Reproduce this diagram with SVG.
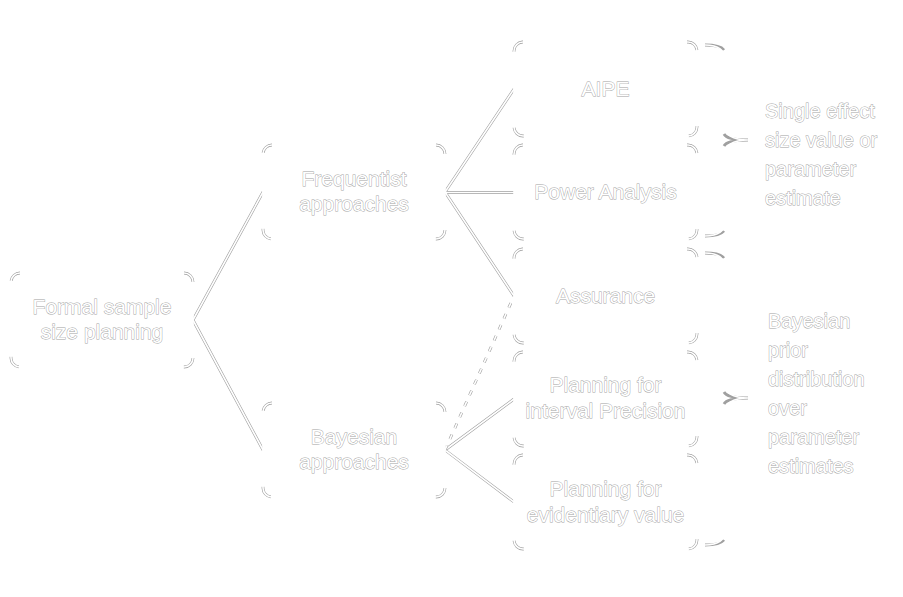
<svg xmlns="http://www.w3.org/2000/svg" width="903" height="597" viewBox="0 0 903 597">
<defs>
<style>
.bg{fill:#fff}
.box{fill:#fff;stroke:none}
.ch{fill:none;stroke:#a0a0a0;stroke-width:2.8;stroke-dasharray:0 164 14.14 76 14.14 165 14.14 76 14.14}
.cc{fill:none;stroke:#fff;stroke-width:1.6}
.lh{fill:none;stroke:#a0a0a0;stroke-width:2.8}
.lc{fill:none;stroke:#fff;stroke-width:1.6}
.dh{fill:none;stroke:#a0a0a0;stroke-width:2.8;stroke-dasharray:5 7}
.dc{fill:none;stroke:#fff;stroke-width:1.6;stroke-dasharray:5 7}
.t{font-family:"Liberation Sans",Arial,sans-serif;font-size:21px;fill:#fff;stroke:#a4a4a4;stroke-width:0.9;paint-order:stroke;text-anchor:middle}
.s{font-family:"Liberation Sans",Arial,sans-serif;font-size:20px;fill:#fff;stroke:#a4a4a4;stroke-width:0.9;paint-order:stroke}
</style>
</defs>
<rect class="bg" x="0" y="0" width="903" height="597"/>

<g id="connectors">
<path class="lh" d="M193,320 L263,192 M193,320 L263,450 M445,192 L514,89 M445,192.5 L514,192.5 M445,192 L514,296 M445,450 L514,399 M445,450 L514,502"/>
<path class="lc" d="M193,320 L263,192 M193,320 L263,450 M445,192 L514,89 M445,192.5 L514,192.5 M445,192 L514,296 M445,450 L514,399 M445,450 L514,502"/>
<path class="dh" d="M445,450 L514,296"/>
<path class="dc" d="M445,450 L514,296"/>
</g>

<g id="root">
<rect class="box" x="11" y="273" width="182" height="94" rx="9"/>
<rect class="ch" x="11" y="273" width="182" height="94" rx="9"/>
<rect class="cc" x="11" y="273" width="182" height="94" rx="9"/>
<text class="t" x="102" y="314">Formal sample</text>
<text class="t" x="102" y="339">size planning</text>
</g>

<g id="frequentist">
<rect class="box" x="263" y="145" width="182" height="94" rx="9"/>
<rect class="ch" x="263" y="145" width="182" height="94" rx="9"/>
<rect class="cc" x="263" y="145" width="182" height="94" rx="9"/>
<text class="t" x="354" y="186">Frequentist</text>
<text class="t" x="354" y="211">approaches</text>
</g>

<g id="bayesian">
<rect class="box" x="263" y="403" width="182" height="94" rx="9"/>
<rect class="ch" x="263" y="403" width="182" height="94" rx="9"/>
<rect class="cc" x="263" y="403" width="182" height="94" rx="9"/>
<text class="t" x="354" y="444">Bayesian</text>
<text class="t" x="354" y="469">approaches</text>
</g>

<g id="aipe">
<rect class="box" x="514" y="42" width="183" height="94" rx="9"/>
<rect class="ch" x="514" y="42" width="183" height="94" rx="9"/>
<rect class="cc" x="514" y="42" width="183" height="94" rx="9"/>
<text class="t" x="605.5" y="96">AIPE</text>
</g>

<g id="power">
<rect class="box" x="514" y="145" width="183" height="94" rx="9"/>
<rect class="ch" x="514" y="145" width="183" height="94" rx="9"/>
<rect class="cc" x="514" y="145" width="183" height="94" rx="9"/>
<text class="t" x="605.5" y="199">Power Analysis</text>
</g>

<g id="assurance">
<rect class="box" x="514" y="249" width="183" height="94" rx="9"/>
<rect class="ch" x="514" y="249" width="183" height="94" rx="9"/>
<rect class="cc" x="514" y="249" width="183" height="94" rx="9"/>
<text class="t" x="605.5" y="303">Assurance</text>
</g>

<g id="interval">
<rect class="box" x="514" y="352" width="183" height="94" rx="9"/>
<rect class="ch" x="514" y="352" width="183" height="94" rx="9"/>
<rect class="cc" x="514" y="352" width="183" height="94" rx="9"/>
<text class="t" x="605.5" y="392">Planning for</text>
<text class="t" x="605.5" y="418">interval Precision</text>
</g>

<g id="evidentiary">
<rect class="box" x="514" y="455" width="183" height="94" rx="9"/>
<rect class="ch" x="514" y="455" width="183" height="94" rx="9"/>
<rect class="cc" x="514" y="455" width="183" height="94" rx="9"/>
<text class="t" x="605.5" y="496">Planning for</text>
<text class="t" x="605.5" y="522">evidentiary value</text>
</g>

<g id="brace-frequentist">
<path class="lh" d="M705,45 Q720,45 724,50 M724,134 Q727,140 748,140 Q727,140 724,146 M724,231 Q720,236 705,236"/>
<path class="lc" d="M705,45 Q725,45 725,60 L725,125 Q725,140 748,140 Q725,140 725,155 L725,221 Q725,236 705,236"/>
<text class="s" x="765" y="118">Single effect</text>
<text class="s" x="765" y="147">size value or</text>
<text class="s" x="765" y="176">parameter</text>
<text class="s" x="765" y="205">estimate</text>
</g>

<g id="brace-bayesian">
<path class="lh" d="M705,253 Q720,253 724,258 M724,392 Q727,398 748,398 Q727,398 724,404 M724,540 Q720,545 705,545"/>
<path class="lc" d="M705,253 Q725,253 725,268 L725,383 Q725,398 748,398 Q725,398 725,413 L725,530 Q725,545 705,545"/>
<text class="s" x="768" y="328">Bayesian</text>
<text class="s" x="768" y="357">prior</text>
<text class="s" x="768" y="386">distribution</text>
<text class="s" x="768" y="415">over</text>
<text class="s" x="768" y="444">parameter</text>
<text class="s" x="768" y="473">estimates</text>
</g>
</svg>
